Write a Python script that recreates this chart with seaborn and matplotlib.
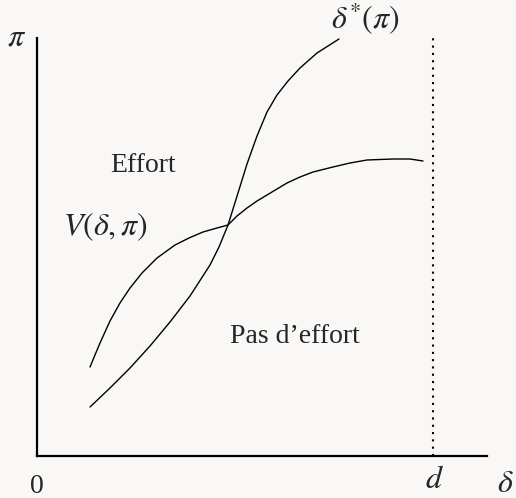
import matplotlib
matplotlib.use("Agg")
import matplotlib.pyplot as plt
import seaborn as sns
import pandas as pd

# Curve V(delta, pi): points (x = delta, y = pi)
v_x = [53, 63, 73, 83, 93, 105, 120, 138, 152, 166, 180, 191, 200, 210, 220, 230, 250, 263, 276, 296, 313, 330, 356, 373, 386]
v_y = [89, 113, 135, 153, 168, 183, 198, 211, 218, 224, 228, 231, 240, 248, 255, 261, 273, 279, 284, 289, 293, 296, 297, 297, 295]

# Curve delta*(pi)
dstar_x = [53, 73, 93, 113, 133, 153, 173, 182, 191, 201, 210, 220, 230, 240, 251, 263, 280, 302]
dstar_y = [49, 68, 88, 110, 134, 160, 191, 209, 231, 263, 292, 320, 344, 361, 375, 388, 403, 417]

d_value = 396
x_max, y_max = 450, 418

labels = {
    "pi": r"$\pi$",
    "dstar": r"$\delta^{*}(\pi)$",
    "effort": "Effort",
    "V": r"$V(\delta,\pi)$",
    "noeffort": "Pas d\u2019effort",
    "zero": "0",
    "d": r"$d$",
    "delta": r"$\delta$",
}

sns.set_theme(style="white")
plt.rcParams["font.family"] = ["Liberation Serif", "DejaVu Serif"]
plt.rcParams["mathtext.fontset"] = "stix"

bg = "#f9f8f6"
fig = plt.figure(figsize=(5.16, 4.98), dpi=100, facecolor=bg)
ax = fig.add_axes([37 / 516, 42 / 498, 450 / 516, 418 / 498])
ax.set_facecolor(bg)

df_v = pd.DataFrame({"x": v_x, "y": v_y})
df_d = pd.DataFrame({"x": dstar_x, "y": dstar_y})
sns.lineplot(data=df_v, x="x", y="y", sort=False, estimator=None, color="black", lw=1.0, ax=ax)
sns.lineplot(data=df_d, x="x", y="y", sort=False, estimator=None, color="black", lw=1.0, ax=ax)
ax.axvline(d_value, ymin=0, ymax=1, color="black", lw=1.5, ls=(0, (1, 2.5)), clip_on=False)

ax.set_xlim(0, x_max)
ax.set_ylim(0, y_max)
for s in ["top", "right"]:
    ax.spines[s].set_visible(False)
for s in ["left", "bottom"]:
    ax.spines[s].set_color("black")
    ax.spines[s].set_linewidth(1.6)
ax.set_xticks([])
ax.set_yticks([])
ax.set_xlabel("")
ax.set_ylabel("")

fs = 20
mfs = 23
ax.text(-20, 411, labels["pi"], fontsize=mfs, ha="center", va="baseline", clip_on=False)
ax.text(328, 437, labels["dstar"], fontsize=mfs, ha="center", va="center", clip_on=False)
ax.text(106, 284, labels["effort"], fontsize=fs, ha="center", va="baseline")
ax.text(68.5, 229, labels["V"], fontsize=mfs, ha="center", va="center")
ax.text(193, 113, labels["noeffort"], fontsize=fs, ha="left", va="baseline")
ax.text(0, -37, labels["zero"], fontsize=fs, ha="center", va="baseline", clip_on=False)
ax.text(397, -32, labels["d"], fontsize=mfs, ha="center", va="baseline", clip_on=False)
ax.text(468, -36, labels["delta"], fontsize=mfs, ha="center", va="baseline", clip_on=False)

fig.savefig("out.png", dpi=100, facecolor=bg)
